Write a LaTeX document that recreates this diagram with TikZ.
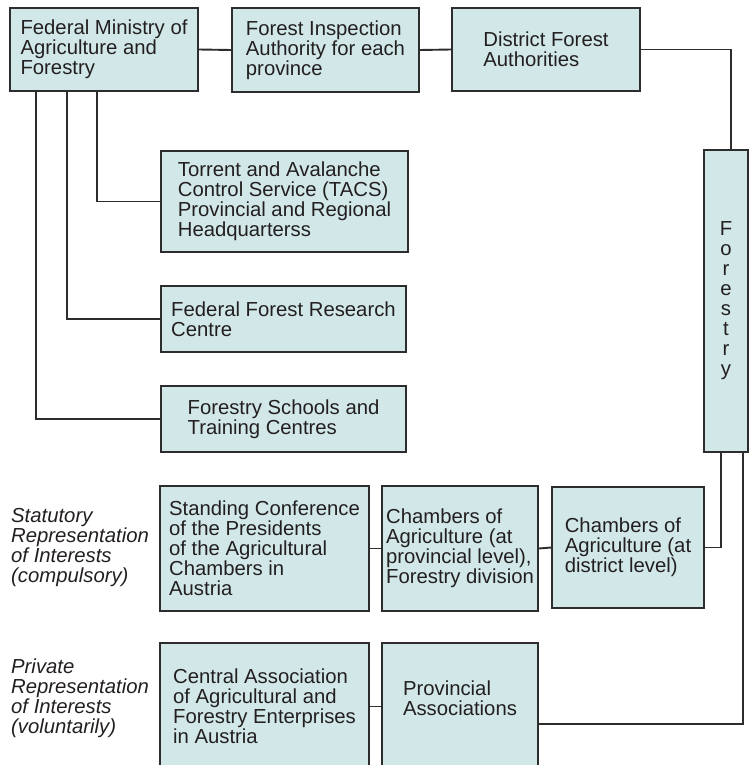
\documentclass[tikz,border=0pt]{standalone}
\usepackage{fontspec}
\setmainfont{Liberation Sans}
\definecolor{boxfill}{RGB}{210,232,232}
\definecolor{boxline}{RGB}{45,45,45}
\definecolor{inktext}{RGB}{35,31,32}
\tikzset{
    orgbox/.style={draw=boxline, fill=boxfill, line width=1.9pt, align=left,
        inner sep=0pt, text=inktext},
    link/.style={draw=boxline, line width=1.9pt},
    sidelabel/.style={anchor=west, align=left, inner sep=0pt, text=inktext,
        font=\fontsize{20.3}{20}\selectfont\itshape}
}
\begin{document}
\begin{tikzpicture}[x=1pt, y=-1pt, font=\fontsize{20.3}{20}\selectfont]
\useasboundingbox (0,0) rectangle (750,765);

% top row
\node (ministry) at (104,49.5)[orgbox, minimum width=188pt, minimum height=83pt]{Federal Ministry of\\Agriculture and\\Forestry};
\node (inspect) at (325.5,50)[orgbox, minimum width=187pt, minimum height=84pt]{Forest Inspection\\Authority for each\\province};
\node (district) at (546,49.5)[orgbox, minimum width=188pt, minimum height=83pt]{District Forest\\Authorities};
\node (forestry) at (726,301)[orgbox, align=center, minimum width=44pt, minimum height=302pt]{F\\o\\r\\e\\s\\t\\r\\y};

% federal institutions
\node (tacs) at (284.5,201.5)[orgbox, minimum width=247pt, minimum height=101pt]{Torrent and Avalanche\\Control Service (TACS)\\Provincial and Regional\\Headquarterss};
\node (research) at (283.5,319)[orgbox, minimum width=245pt, minimum height=66pt]{Federal Forest Research\\Centre};
\node (schools) at (283.5,419)[orgbox, minimum width=245pt, minimum height=66pt]{Forestry Schools and\\Training Centres};

% statutory representation
\node (statlabel) at (11,548)[sidelabel]{Statutory\\Representation\\of Interests\\(compulsory)};
\node (conference) at (264.5,548.5)[orgbox, minimum width=209pt, minimum height=125pt]{Standing Conference\\of the Presidents\\of the Agricultural\\Chambers in\\Austria};
\node (chprov) at (460,548.5)[orgbox, minimum width=156pt, minimum height=125pt]{Chambers of\\Agriculture (at\\provincial level),\\Forestry division};
\node (chdist) at (628,547.5)[orgbox, minimum width=152pt, minimum height=121pt]{Chambers of\\Agriculture (at\\district level)};

% private representation
\node (privlabel) at (11,698)[sidelabel]{Private\\Representation\\of Interests\\(voluntarily)};
\node (central) at (264.5,706.5)[orgbox, minimum width=209pt, minimum height=127pt]{Central Association\\of Agricultural and\\Forestry Enterprises\\in Austria};
\node (provassoc) at (460,706.5)[orgbox, minimum width=156pt, minimum height=127pt, text depth=16pt]{Provincial\\Associations};

% connectors
\draw[link] (ministry.east) -- (inspect.west);
\draw[link] (inspect.east) -- (district.west);
\draw[link] (district.east) -| ([xshift=5pt]forestry.north);

\foreach \dx/\target in {88/tacs, 58/research, 27/schools}
{
    \draw[link] ([xshift=\dx pt]ministry.south west) |- (\target.west);
}

\draw[link] (conference.east) -- (chprov.west);
\draw[link] (chprov.east) -- (chdist.west);
\draw[link] (central.east) -- (provassoc.west);
\draw[link] ([xshift=-5pt]forestry.south) |- (chdist.east);
\draw[link] ([xshift=17pt]forestry.south) |- ([yshift=-17.5pt]provassoc.east);

\end{tikzpicture}
\end{document}
